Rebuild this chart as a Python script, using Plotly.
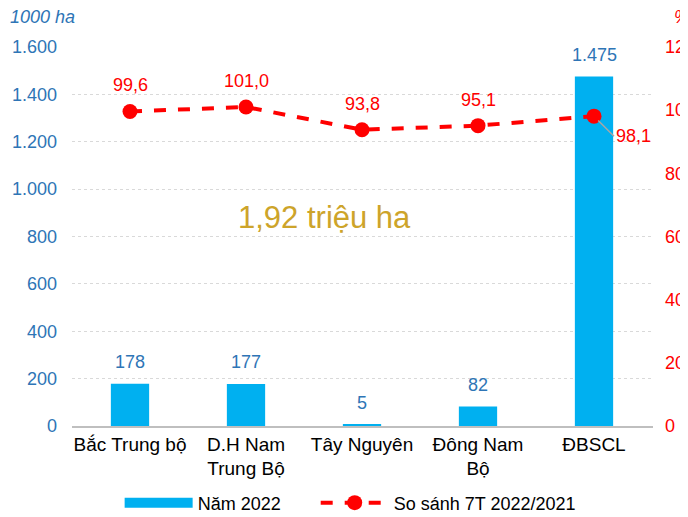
import plotly.graph_objects as go

# data
regions = ["Bắc Trung bộ", "D.H Nam<br>Trung Bộ", "Tây Nguyên", "Đông Nam<br>Bộ", "ĐBSCL"]
area_2022 = [178, 177, 5, 82, 1475]          # 1000 ha
ratio_7t = [99.6, 101.0, 93.8, 95.1, 98.1]    # %
left_ticks = [0, 200, 400, 600, 800, 1000, 1200, 1400, 1600]
right_ticks = [0, 20, 40, 60, 80, 100, 120]

BLUE_BAR = "#00B0F0"
BLUE_TXT = "#2E75B6"
RED = "#FF0000"
FONT = "Arial, Liberation Sans, sans-serif"
FS = 18


def vn_int(v):
    return f"{v:,}".replace(",", ".")


def vn_dec(v):
    return f"{v:.1f}".replace(".", ",")


fig = go.Figure()

fig.add_trace(go.Bar(
    x=regions, y=area_2022, width=0.33,
    marker=dict(color=BLUE_BAR, line=dict(width=0)),
    name="Năm 2022", showlegend=False, yaxis="y",
))
# legend-only entry so the swatch is a wide block like the original;
# trailing no-break spaces widen the gap to the next legend item
fig.add_trace(go.Scatter(
    x=[None], y=[None], mode="lines", name="Năm 2022" + "\u00a0" * 6,
    line=dict(color=BLUE_BAR, width=13),
))
fig.add_trace(go.Scatter(
    x=regions, y=ratio_7t, mode="lines+markers", name="So sánh 7T 2022/2021",
    line=dict(color=RED, width=4, dash="dash"),
    marker=dict(color=RED, size=15),
    yaxis="y2",
))

# bar value labels
for r, v in zip(regions, area_2022):
    fig.add_annotation(x=r, y=v, yref="y", text=vn_int(v), showarrow=False,
                       yshift=22, font=dict(size=FS, color=BLUE_TXT, family=FONT))

# line value labels (last one sits to the lower right with a leader)
for r, v in zip(regions[:-1], ratio_7t[:-1]):
    fig.add_annotation(x=r, y=v, yref="y2", text=vn_dec(v), showarrow=False,
                       yshift=26, font=dict(size=FS, color=RED, family=FONT))
fig.add_annotation(x=regions[-1], y=ratio_7t[-1], yref="y2", text=vn_dec(ratio_7t[-1]),
                   showarrow=True, arrowhead=0, arrowwidth=1.5, arrowcolor="#A6A6A6",
                   ax=20, ay=20, xanchor="left", standoff=6,
                   font=dict(size=FS, color=RED, family=FONT))

fig.add_annotation(x=0.435, y=0.551, xref="paper", yref="paper", text="1,92 triệu ha",
                   showarrow=False, font=dict(size=31, color="#CDA42A", family=FONT))

fig.add_annotation(x=-0.11, y=1.079, xref="paper", yref="paper", text="<i>1000 ha</i>",
                   showarrow=False, xanchor="left", yanchor="middle",
                   font=dict(size=FS, color=BLUE_TXT, family=FONT))
fig.add_annotation(x=1.032, y=1.079, xref="paper", yref="paper", text="<i>%</i>",
                   showarrow=False, xanchor="left", yanchor="middle",
                   font=dict(size=FS, color=RED, family=FONT))

# the page body has an 8px margin, so the figure is drawn 8px smaller
fig.update_layout(
    width=680, height=509,
    margin=dict(l=64, r=35, t=39, b=91, autoexpand=False),
    paper_bgcolor="white", plot_bgcolor="white",
    separators=",.",
    font=dict(family=FONT, size=FS, color="#000000"),
    xaxis=dict(
        showline=True, linecolor="#BFBFBF", linewidth=1.5, automargin=False,
        ticks="", tickfont=dict(size=19, color="#000000"),
    ),
    yaxis=dict(
        range=[0, 1600], tickvals=left_ticks, tickformat=",d", automargin=False,
        showgrid=True, gridcolor="#D9D9D9", griddash="dot", gridwidth=1,
        zeroline=False, showline=False,
        tickfont=dict(size=FS, color=BLUE_TXT), ticklabelstandoff=14,
    ),
    yaxis2=dict(
        range=[0, 120], tickvals=right_ticks, overlaying="y", side="right",
        showgrid=False, zeroline=False, showline=False, automargin=False,
        tickfont=dict(size=FS, color=RED), ticklabelstandoff=11,
    ),
    legend=dict(
        orientation="h", x=0.082, xanchor="left", y=-0.203, yanchor="middle",
        font=dict(size=FS, color="#000000"), itemwidth=68,
        bgcolor="rgba(0,0,0,0)",
    ),
)

fig.write_html("out.html")
